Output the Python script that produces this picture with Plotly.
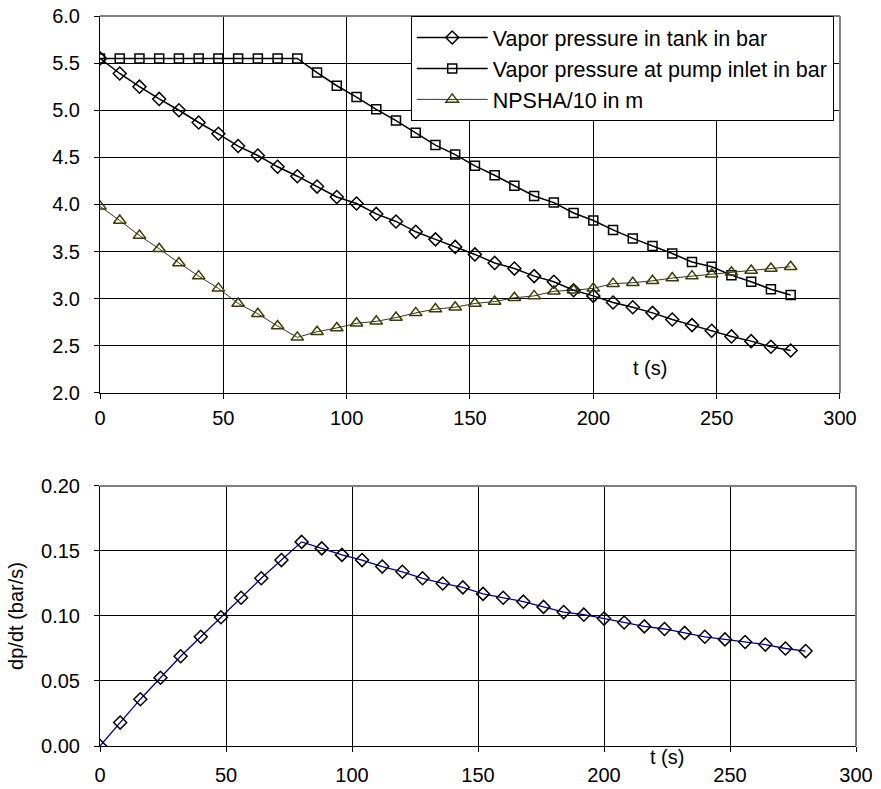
import plotly.graph_objects as go

t = [0, 8, 16, 24, 32, 40, 48, 56, 64, 72, 80, 88, 96, 104, 112, 120, 128, 136,
     144, 152, 160, 168, 176, 184, 192, 200, 208, 216, 224, 232, 240, 248, 256, 264, 272, 280]

p_tank = [5.55, 5.39, 5.25, 5.12, 5.00, 4.87, 4.75, 4.62, 4.52, 4.40, 4.30, 4.19, 4.08, 4.01,
          3.90, 3.82, 3.71, 3.63, 3.55, 3.47, 3.38, 3.32, 3.24, 3.18, 3.09, 3.03, 2.96, 2.91,
          2.85, 2.78, 2.72, 2.66, 2.60, 2.55, 2.49, 2.45]

p_pump = [5.55, 5.55, 5.55, 5.55, 5.55, 5.55, 5.55, 5.55, 5.55, 5.55, 5.55, 5.40, 5.26, 5.14,
          5.01, 4.89, 4.76, 4.63, 4.53, 4.41, 4.31, 4.20, 4.09, 4.02, 3.91, 3.83, 3.73, 3.64,
          3.56, 3.48, 3.39, 3.34, 3.25, 3.18, 3.10, 3.04]

npsha10 = [3.98, 3.83, 3.67, 3.53, 3.38, 3.24, 3.11, 2.95, 2.84, 2.71, 2.59, 2.65, 2.69, 2.74,
           2.76, 2.80, 2.85, 2.89, 2.91, 2.95, 2.97, 3.01, 3.03, 3.08, 3.09, 3.11, 3.16, 3.17,
           3.19, 3.22, 3.24, 3.26, 3.28, 3.30, 3.32, 3.34]

dpdt = [0.000, 0.018, 0.036, 0.0525, 0.069, 0.084, 0.099, 0.114, 0.129, 0.143, 0.157, 0.152,
        0.147, 0.143, 0.138, 0.134, 0.129, 0.125, 0.122, 0.117, 0.114, 0.111, 0.107, 0.103,
        0.101, 0.098, 0.095, 0.092, 0.090, 0.087, 0.084, 0.082, 0.080, 0.078, 0.075, 0.073]

names = ["Vapor pressure in tank in bar", "Vapor pressure at pump inlet in bar", "NPSHA/10 in m"]
x_ticks = [0, 50, 100, 150, 200, 250, 300]

FONT = "Liberation Sans, Arial, sans-serif"
FS = 20

fig = go.Figure()
fig.add_trace(go.Scatter(x=t, y=p_tank, name=names[0], mode="lines+markers", legendgroup="a",
                         line=dict(color="black", width=1.5),
                         marker=dict(symbol="diamond-open", size=10, color="black", line=dict(width=1.5)),
                         xaxis="x", yaxis="y"))
fig.add_trace(go.Scatter(x=t, y=p_pump, name=names[1], mode="lines+markers", legendgroup="b",
                         line=dict(color="black", width=1.5),
                         marker=dict(symbol="square-open", size=9, color="black", line=dict(width=1.5)),
                         xaxis="x", yaxis="y"))
fig.add_trace(go.Scatter(x=t, y=npsha10, name=names[2], mode="lines+markers", legendgroup="c",
                         line=dict(color="black", width=0.8),
                         marker=dict(symbol="triangle-up-open", size=11, color="#3d3d00", line=dict(width=1.5)),
                         xaxis="x", yaxis="y"))
fig.add_trace(go.Scatter(x=t, y=dpdt, name="dp/dt", mode="lines+markers", showlegend=False,
                         line=dict(color="#000080", width=1.3),
                         marker=dict(symbol="diamond-open", size=10, color="black", line=dict(width=1.5)),
                         xaxis="x2", yaxis="y2"))

axis_common = dict(showgrid=True, gridcolor="black", gridwidth=1, showline=True, linecolor="black",
                   linewidth=1, ticks="outside", ticklen=5, tickcolor="black", zeroline=False,
                   automargin=False, ticklabeloverflow="allow",
                   tickfont=dict(family=FONT, size=FS, color="black"))

# page body margin is removed below, so margins are in window pixels
fig.update_layout(
    width=881, height=789,
    margin=dict(l=100, r=25, t=16, b=43),
    paper_bgcolor="white", plot_bgcolor="white",
    font=dict(family=FONT, size=FS, color="black"),
    xaxis=dict(domain=[0, 0.9788], range=[0, 300], tickvals=x_ticks, anchor="y",
               ticklabelstandoff=2, **axis_common),
    yaxis=dict(domain=[0.4836, 1], range=[2.0, 6.0], dtick=0.5, tickformat=".1f", anchor="x",
               ticklabelstandoff=10, **axis_common),
    xaxis2=dict(domain=[0, 1], range=[0, 300], tickvals=x_ticks, anchor="y2",
                ticklabelstandoff=6, **axis_common),
    yaxis2=dict(domain=[0, 0.3562], range=[0, 0.20], dtick=0.05, tickformat=".2f", anchor="x2",
                ticklabelstandoff=10,
                title=dict(text="dp/dt (bar/s)", font=dict(family=FONT, size=FS), standoff=12),
                **axis_common),
    legend=dict(x=0.411, y=1.0, xanchor="left", yanchor="top", bgcolor="white",
                bordercolor="black", borderwidth=1, font=dict(family=FONT, size=21.5, color="black"),
                traceorder="grouped", tracegroupgap=0, itemwidth=71),
    showlegend=True,
)

# gray top/right plot-area borders
for xr, yr in (("x domain", "y domain"), ("x2 domain", "y2 domain")):
    fig.add_shape(type="line", xref=xr, yref=yr, x0=0, x1=1, y0=1, y1=1, line=dict(color="#808080", width=2))
    fig.add_shape(type="line", xref=xr, yref=yr, x0=1, x1=1, y0=0, y1=1, line=dict(color="#808080", width=2))

fig.add_annotation(x=223, y=2.26, xref="x", yref="y", text="t (s)", showarrow=False,
                   font=dict(family=FONT, size=FS, color="black"))
fig.add_annotation(x=225, y=-0.015, xref="x2", yref="paper", yanchor="middle", text="t (s)",
                   showarrow=False, font=dict(family=FONT, size=FS, color="black"))

fig.write_html("out.html", config={"displayModeBar": False},
               post_script="document.body.style.margin='0px';")
